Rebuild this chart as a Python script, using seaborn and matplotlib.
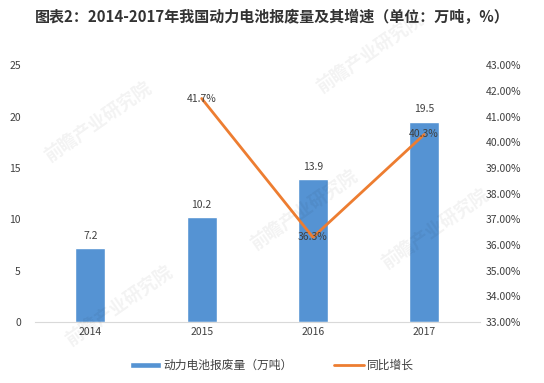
import numpy as np
import matplotlib
matplotlib.use('Agg')
import matplotlib.pyplot as plt
import seaborn as sns
import pandas as pd
from matplotlib.ticker import FuncFormatter

sns.set_style('white')
plt.rcParams['font.family'] = ['Noto Sans CJK SC', 'DejaVu Sans']

years = ['2014', '2015', '2016', '2017']
scrap = [7.2, 10.2, 13.9, 19.5]
growth_years = ['2015', '2016', '2017']
growth = [41.7, 36.3, 40.3]

bar_color = '#5593d3'
line_color = '#ed7d31'
text_color = '#404040'

df = pd.DataFrame({'year': years, 'scrap': scrap})

fig = plt.figure(figsize=(5.44, 3.83), dpi=100)
ax = fig.add_axes([0.064, 0.159, 0.818, 0.671])

sns.barplot(data=df, x='year', y='scrap', color=bar_color, width=0.27,
            saturation=1, ax=ax, label='动力电池报废量（万吨）')
ax.set_ylim(0, 25)
ax.set_yticks(range(0, 26, 5))
ax.set_xlim(-0.5, 3.5)
ax.set_xlabel('')
ax.set_ylabel('')
for s in ['top', 'right', 'left']:
    ax.spines[s].set_visible(False)
ax.spines['bottom'].set_color('#d9d9d9')
ax.tick_params(axis='both', length=0, labelsize=7.5, colors=text_color)
ax.tick_params(axis='y', pad=10)
for i, v in enumerate(scrap):
    ax.text(i, v + 0.7, f'{v}', ha='center', va='bottom', fontsize=7.5, color=text_color)

ax2 = ax.twinx()
xpos = [years.index(y) for y in growth_years]
sns.lineplot(x=xpos, y=growth, color=line_color, linewidth=2, ax=ax2,
             label='同比增长')
ax2.set_ylim(33, 43)
ax2.set_yticks(np.arange(33, 43.5, 1))
ax2.yaxis.set_major_formatter(FuncFormatter(lambda v, p: f'{v:.2f}%'))
for s in ['top', 'right', 'left', 'bottom']:
    ax2.spines[s].set_visible(False)
ax2.tick_params(axis='y', length=0, labelsize=7.5, colors=text_color, pad=4)
ax2.set_ylabel('')
for x, v in zip(xpos, growth):
    ax2.text(x, v, f'{v}%', ha='center', va='center', fontsize=7.5, color=text_color)

# legend at the bottom
h1, l1 = ax.get_legend_handles_labels()
h2, l2 = ax2.get_legend_handles_labels()
if ax2.get_legend():
    ax2.get_legend().remove()
if ax.get_legend():
    ax.get_legend().remove()
fig.legend(h1 + h2, l1 + l2, loc='center', bbox_to_anchor=(0.5, 0.045), ncol=2,
           frameon=False, fontsize=8.5, handlelength=2.6, handleheight=0.5,
           handletextpad=0.2, columnspacing=3.5, labelcolor=text_color)

# watermark
for (wx, wy) in [(0.18, 0.68), (0.68, 0.86), (0.56, 0.45), (0.22, 0.2), (0.8, 0.4)]:
    fig.text(wx, wy, '前瞻产业研究院', fontsize=13, color='#000000', alpha=0.05,
             rotation=35, ha='center', va='center', fontweight='bold')

fig.text(0.5, 0.955, '图表2：2014-2017年我国动力电池报废量及其增速（单位：万吨，%）',
         ha='center', va='center', fontsize=10.8, fontweight='bold', color='#333333')

fig.savefig('out.png', dpi=100)
